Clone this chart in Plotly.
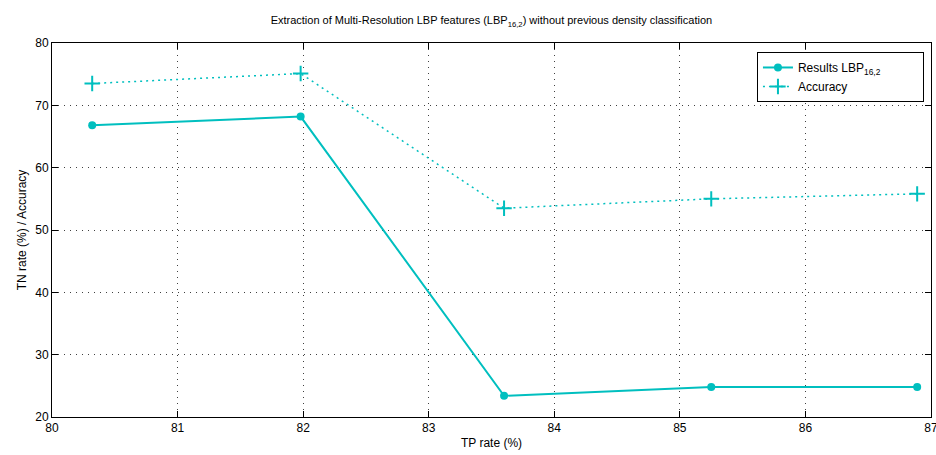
import plotly.graph_objects as go

tp_rate = [80.32, 81.98, 83.60, 85.25, 86.89]
tn_rate = [66.8, 68.2, 23.4, 24.8, 24.8]
accuracy = [73.5, 75.1, 53.5, 55.0, 55.8]

x_ticks = [80, 81, 82, 83, 84, 85, 86, 87]
y_ticks = [20, 30, 40, 50, 60, 70, 80]

teal = "rgb(0,191,191)"
font = "Liberation Sans, Arial, sans-serif"

fig = go.Figure()
fig.add_trace(go.Scatter(
    x=tp_rate, y=tn_rate, mode="lines+markers",
    name="Results LBP<sub>16,2</sub>" + "&nbsp;" * 11,
    line=dict(color=teal, width=2),
    marker=dict(symbol="circle", size=8, color=teal),
))
fig.add_trace(go.Scatter(
    x=tp_rate, y=accuracy, mode="lines+markers",
    name="Accuracy",
    line=dict(color=teal, width=1.5, dash="2px,4px"),
    marker=dict(symbol="cross-thin", size=11, color=teal,
                line=dict(color=teal, width=2)),
))

axis_common = dict(
    showline=True, linecolor="black", linewidth=1, mirror="allticks",
    ticks="inside", ticklen=6, tickcolor="black",
    showgrid=True, gridcolor="rgba(0,0,0,0.75)", griddash="1px,5px", gridwidth=1,
    zeroline=False, tickfont=dict(family=font, size=12, color="black"),
    ticklabeloverflow="allow", automargin=False,
)

fig.update_layout(
    width=936, height=455,
    margin=dict(l=52, r=5, t=43, b=38, autoexpand=False),
    paper_bgcolor="white", plot_bgcolor="white",
    font=dict(family=font, size=12, color="black"),
    title=dict(
        text="Extraction of Multi-Resolution LBP features (LBP<sub>16,2</sub>) without previous density classification",
        x=0.525, xanchor="center", y=0.955, yanchor="middle",
        font=dict(family=font, size=11, color="black"),
    ),
    xaxis=dict(range=[79.9999, 87.0001], tickvals=x_ticks,
               title=dict(text="TP rate (%)", standoff=4, font=dict(size=12)),
               **axis_common),
    yaxis=dict(range=[19.9999, 80.0001], tickvals=y_ticks,
               title=dict(text="TN rate (%) / Accuracy", standoff=6, font=dict(size=12)),
               **axis_common),
    legend=dict(
        x=0.802, y=0.976, xanchor="left", yanchor="top",
        bgcolor="white", bordercolor="black", borderwidth=1,
        font=dict(family=font, size=12, color="black"),
        tracegroupgap=0,
    ),
    showlegend=True,
)

fig.write_html("out.html")
